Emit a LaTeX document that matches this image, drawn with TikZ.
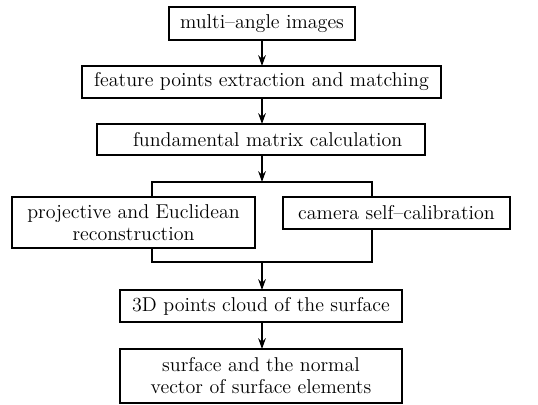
\documentclass[tikz,border=0pt]{standalone}
\usetikzlibrary{arrows.meta}

\tikzset{
  stage/.style={draw, line width=0.9pt, inner sep=0pt, outer sep=0pt, align=center, font=\fontsize{12}{13.2}\selectfont},
  flow/.style={line width=0.9pt, -{Stealth[length=6.5pt,width=4.6pt]}},
  link/.style={line width=0.9pt}
}

\begin{document}
\begin{tikzpicture}[x=0.6pt, y=-0.6pt]
    \useasboundingbox (0,0) rectangle (538,404);
    % main chain of stages
    \node[stage, minimum width=111.6pt, minimum height=19.8pt] (images) at (262,23.5) {multi--angle images};
    \node[stage, minimum width=215.4pt, minimum height=19.2pt] (features) at (261.5,82) {feature points extraction and matching};
    \node[stage, minimum width=196.8pt, minimum height=18.6pt] (fmatrix) at (261,139.5) {\hspace{8pt}fundamental matrix calculation};

    % two parallel branches
    \node[stage, minimum width=145.8pt, minimum height=30.6pt] (recon) at (133.5,222.5) {projective and Euclidean\\reconstruction};
    \node[stage, minimum width=136.2pt, minimum height=19.2pt] (calib) at (396.5,213) {camera self--calibration};

    % results
    \node[stage, minimum width=169.2pt, minimum height=19.2pt] (cloud) at (261,306) {3D points cloud of the surface};
    \node[stage, minimum width=169.2pt, minimum height=32.4pt] (normal) at (261,376) {surface and the normal\\vector of surface elements};

    % split and merge points
    \coordinate (split) at (262,182);
    \coordinate (splitL) at (152,182);
    \coordinate (splitR) at (372,182);
    \coordinate (merge) at (262,262);
    \coordinate (mergeL) at (152,262);
    \coordinate (mergeR) at (372,262);

    % arrows
    \draw[flow] (split |- images.south) -- (split |- features.north);
    \draw[flow] (split |- features.south) -- (split |- fmatrix.north);
    \draw[flow] (split |- fmatrix.south) -- (split);
    \draw[link] (splitL |- recon.north) -- (splitL) -- (splitR) -- (splitR |- calib.north);
    \draw[link] (mergeL |- recon.south) -- (mergeL) -- (mergeR) -- (mergeR |- calib.south);
    \draw[flow] (merge) -- (merge |- cloud.north);
    \draw[flow] (merge |- cloud.south) -- (merge |- normal.north);
\end{tikzpicture}
\end{document}
